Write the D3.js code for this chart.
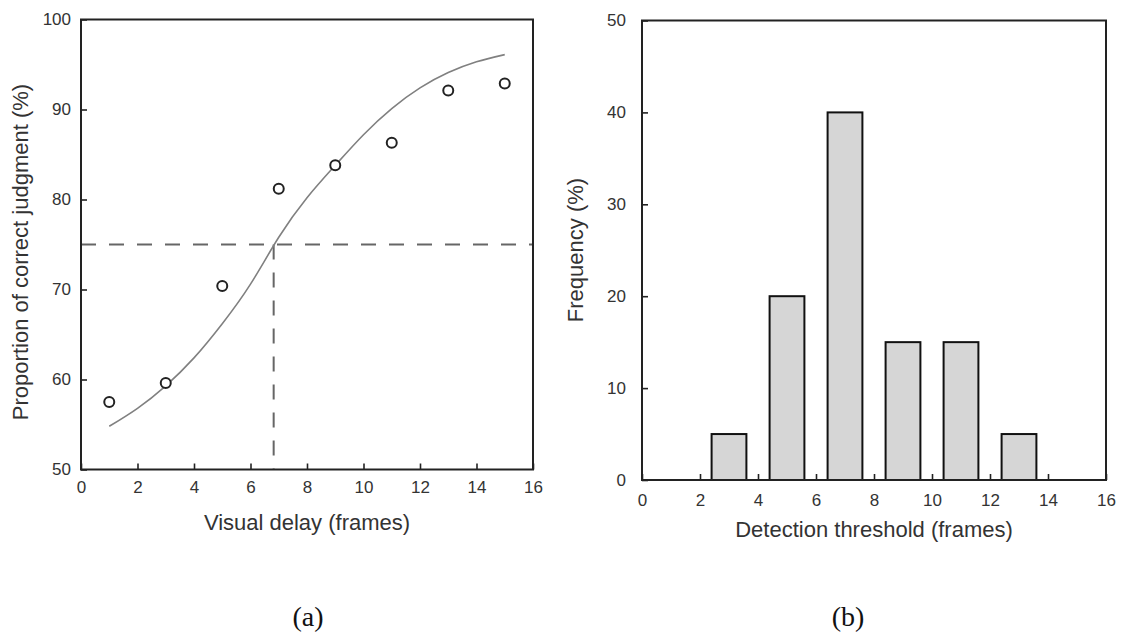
<!DOCTYPE html>
<html>
<head>
<meta charset="utf-8">
<script src="https://cdn.jsdelivr.net/npm/d3@7"></script>
<style>
  html, body { margin: 0; padding: 0; background: #fff; }
  svg { display: block; }
  .tick text { font-family: "Liberation Sans", Arial, sans-serif; font-size: 17px; fill: #333; }
  .title { font-family: "Liberation Sans", Arial, sans-serif; font-size: 22px; fill: #333; }
  .panel { font-family: "Liberation Serif", "Times New Roman", serif; font-size: 28px; fill: #111; }
</style>
</head>
<body>
<svg id="chart" width="1123" height="634"></svg>
<script>
// ---- Data ----
const delays = [1, 3, 5, 7, 9, 11, 13, 15];
const correct = [57.5, 59.6, 70.4, 81.2, 83.8, 86.3, 92.1, 92.9];
const fitX = [1, 2, 3, 4, 5, 6, 7, 8, 9, 10, 11, 12, 13, 14, 15];
const fitY = [54.8, 56.8, 59.3, 62.4, 66.2, 70.6, 75.8, 80.2, 83.8, 87.2, 90.1, 92.4, 94.1, 95.3, 96.1];
const criterion = 75;
const threshold = 6.82;

const binCenters = [3, 5, 7, 9, 11, 13];
const frequency = [5, 20, 40, 15, 15, 5];
const binWidth = 1.2;

const xTicks = [0, 2, 4, 6, 8, 10, 12, 14, 16];
const leftYTicks = [50, 60, 70, 80, 90, 100];
const rightYTicks = [0, 10, 20, 30, 40, 50];

const svg = d3.select("#chart");
svg.append("rect").attr("width", 1123).attr("height", 634).attr("fill", "#fff");

function styleAxis(g) {
  g.select(".domain").remove();
  g.selectAll(".tick line").attr("stroke", "#222").attr("stroke-width", 1.6);
}

// ---- Panel (a) ----
const xa = d3.scaleLinear().domain([0, 16]).range([81, 533]);
const ya = d3.scaleLinear().domain([50, 100]).range([469.5, 19.5]);
const ga = svg.append("g");

ga.append("g").attr("transform", `translate(0,${ya(50)})`)
  .call(d3.axisBottom(xa).tickValues(xTicks).tickSize(-6).tickPadding(11))
  .call(styleAxis);
ga.append("g").attr("transform", `translate(${xa(0)},0)`)
  .call(d3.axisLeft(ya).tickValues(leftYTicks).tickSize(-6).tickPadding(10))
  .call(styleAxis);

// dashed criterion lines
ga.append("line")
  .attr("x1", xa(0)).attr("x2", xa(16)).attr("y1", ya(criterion)).attr("y2", ya(criterion))
  .attr("stroke", "#666").attr("stroke-width", 2).attr("stroke-dasharray", "15,13");
ga.append("line")
  .attr("x1", xa(threshold)).attr("x2", xa(threshold)).attr("y1", ya(criterion)).attr("y2", ya(50))
  .attr("stroke", "#666").attr("stroke-width", 2).attr("stroke-dasharray", "15,13");

// fitted curve
const fitData = fitX.map((x, i) => [x, fitY[i]]);
ga.append("path").datum(fitData)
  .attr("d", d3.line().x(d => xa(d[0])).y(d => ya(d[1])).curve(d3.curveNatural))
  .attr("fill", "none").attr("stroke", "#808080").attr("stroke-width", 1.6);

// data points
ga.selectAll("circle.pt").data(delays.map((x, i) => [x, correct[i]])).enter()
  .append("circle").attr("class", "pt")
  .attr("cx", d => xa(d[0])).attr("cy", d => ya(d[1])).attr("r", 5)
  .attr("fill", "#fff").attr("stroke", "#222").attr("stroke-width", 2);

// frame
ga.append("rect")
  .attr("x", xa(0)).attr("y", ya(100)).attr("width", xa(16) - xa(0)).attr("height", ya(50) - ya(100))
  .attr("fill", "none").attr("stroke", "#222").attr("stroke-width", 2);

ga.append("text").attr("class", "title")
  .attr("x", (xa(0) + xa(16)) / 2).attr("y", 530).attr("text-anchor", "middle")
  .text("Visual delay (frames)");
ga.append("text").attr("class", "title")
  .attr("transform", `translate(28,252) rotate(-90)`).attr("text-anchor", "middle")
  .text("Proportion of correct judgment (%)");

// ---- Panel (b) ----
const xb = d3.scaleLinear().domain([0, 16]).range([642, 1106]);
const yb = d3.scaleLinear().domain([0, 50]).range([480, 20.5]);
const gb = svg.append("g");

gb.append("g").attr("transform", `translate(0,${yb(0)})`)
  .call(d3.axisBottom(xb).tickValues(xTicks).tickSize(-6).tickPadding(14))
  .call(styleAxis);
gb.append("g").attr("transform", `translate(${xb(0)},0)`)
  .call(d3.axisLeft(yb).tickValues(rightYTicks).tickSize(-6).tickPadding(16))
  .call(styleAxis);

gb.selectAll("rect.bar").data(binCenters.map((c, i) => [c, frequency[i]])).enter()
  .append("rect").attr("class", "bar")
  .attr("x", d => xb(d[0] - binWidth / 2))
  .attr("width", d => xb(d[0] + binWidth / 2) - xb(d[0] - binWidth / 2))
  .attr("y", d => yb(d[1]))
  .attr("height", d => yb(0) - yb(d[1]))
  .attr("fill", "#d6d6d6").attr("stroke", "#111").attr("stroke-width", 2);

gb.append("rect")
  .attr("x", xb(0)).attr("y", yb(50)).attr("width", xb(16) - xb(0)).attr("height", yb(0) - yb(50))
  .attr("fill", "none").attr("stroke", "#222").attr("stroke-width", 2);

gb.append("text").attr("class", "title")
  .attr("x", (xb(0) + xb(16)) / 2).attr("y", 537).attr("text-anchor", "middle")
  .text("Detection threshold (frames)");
gb.append("text").attr("class", "title")
  .attr("transform", `translate(583,250) rotate(-90)`).attr("text-anchor", "middle")
  .text("Frequency (%)");

// panel labels
svg.append("text").attr("class", "panel").attr("x", 308).attr("y", 626).attr("text-anchor", "middle").text("(a)");
svg.append("text").attr("class", "panel").attr("x", 848).attr("y", 626).attr("text-anchor", "middle").text("(b)");
</script>
</body>
</html>
